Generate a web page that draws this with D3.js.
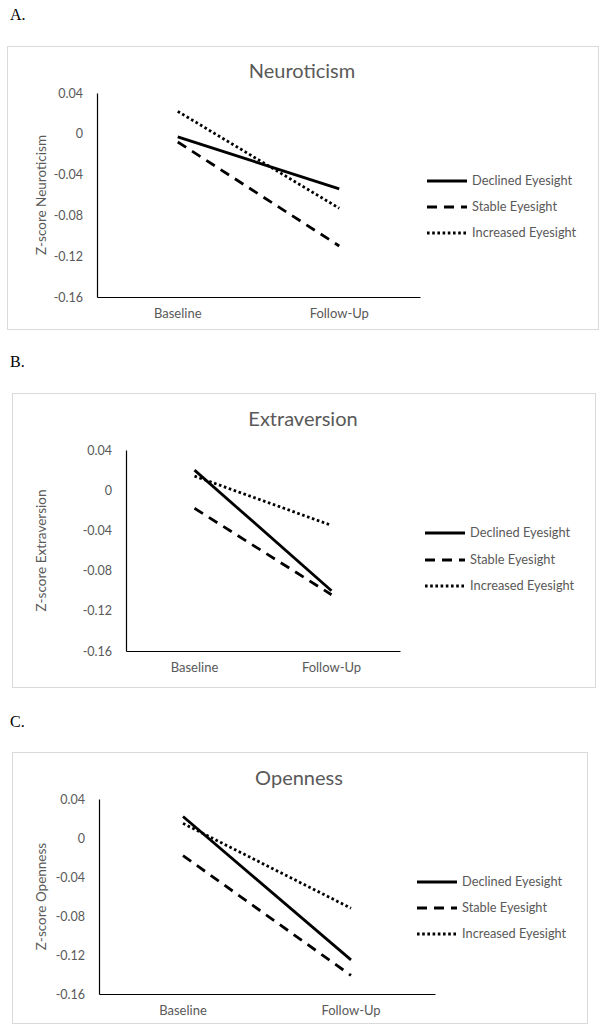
<!DOCTYPE html>
<html><head><meta charset="utf-8">
<script src="https://cdn.jsdelivr.net/npm/d3@7"></script>
<style>body{margin:0;background:#fff}svg{display:block}</style>
</head><body>
<svg id="c" width="602" height="1032"></svg>
<script>
const categories = ["Baseline", "Follow-Up"];
const seriesNames = ["Declined Eyesight", "Stable Eyesight", "Increased Eyesight"];
const yTicks = [0.04, 0, -0.04, -0.08, -0.12, -0.16];
const yTickLabels = ["0.04", "0", "-0.04", "-0.08", "-0.12", "-0.16"];
const panelLetters = ["A.", "B.", "C."];
const titles = ["Neuroticism", "Extraversion", "Openness"];
const yLabels = ["Z-score Neuroticism", "Z-score Extraversion", "Z-score Openness"];
const neuroDeclined = [-0.003, -0.054];
const neuroStable = [-0.008, -0.110];
const neuroIncreased = [0.022, -0.073];
const extraDeclined = [0.020, -0.100];
const extraStable = [-0.018, -0.104];
const extraIncreased = [0.014, -0.035];
const openDeclined = [0.022, -0.125];
const openStable = [-0.018, -0.141];
const openIncreased = [0.015, -0.072];

const panelData = [
  [neuroDeclined, neuroStable, neuroIncreased],
  [extraDeclined, extraStable, extraIncreased],
  [openDeclined, openStable, openIncreased]
];

// layout per panel
const layouts = [
  {letterY: 20, box: [7, 46, 591, 283], titleX: 302, titleY: 78, ax: [97, 420], ay: [93, 297], legX: 427, legY: [181, 207, 233]},
  {letterY: 367, box: [12, 393, 583, 294], titleX: 303, titleY: 426, ax: [126, 400], ay: [450, 651], legX: 425, legY: [533, 560, 586]},
  {letterY: 727, box: [12, 752, 575, 271], titleX: 299, titleY: 785, ax: [99, 435], ay: [799, 994], legX: 417, legY: [882, 908, 934]}
];

const styles = [
  {dash: null, cap: "butt"},
  {dash: "10,7", cap: "butt"},
  {dash: "2.6,2.6", cap: "butt"}
];

const svg = d3.select("#c");
const font = "Lato, 'Open Sans', sans-serif";
const gray = "#595959";

panelData.forEach((series, p) => {
  const L = layouts[p];
  svg.append("text").attr("x", 10).attr("y", L.letterY)
    .attr("font-family", "'Liberation Serif', serif").attr("font-size", 16).attr("fill", "#000")
    .text(panelLetters[p]);
  svg.append("rect").attr("x", L.box[0] + 0.5).attr("y", L.box[1] + 0.5)
    .attr("width", L.box[2]).attr("height", L.box[3])
    .attr("fill", "#fff").attr("stroke", "#d9d9d9").attr("stroke-width", 1);
  svg.append("text").attr("x", L.titleX).attr("y", L.titleY).attr("text-anchor", "middle")
    .attr("font-family", font).attr("font-size", 20).attr("fill", gray).text(titles[p]);

  const x = d3.scaleBand().domain(categories).range(L.ax).padding(0);
  const y = d3.scaleLinear().domain([-0.16, 0.04]).range([L.ay[1], L.ay[0]]);

  const g = svg.append("g");
  // y axis
  const ya = g.append("g").attr("transform", `translate(${L.ax[0]},0)`)
    .call(d3.axisLeft(y).tickValues(yTicks).tickSize(0).tickPadding(14)
      .tickFormat((d, i) => yTickLabels[i]));
  ya.select(".domain").attr("stroke", "#000").attr("stroke-width", 1.2);
  ya.selectAll("text").attr("font-family", font).attr("font-size", 12.5).attr("fill", gray);
  // x axis
  const xa = g.append("g").attr("transform", `translate(0,${L.ay[1]})`)
    .call(d3.axisBottom(x).tickSize(0).tickPadding(12));
  xa.select(".domain").attr("stroke", "#000").attr("stroke-width", 1.2);
  xa.selectAll("text").attr("font-family", font).attr("font-size", 13).attr("fill", gray);

  // y label
  const ymid = (L.ay[0] + L.ay[1]) / 2;
  svg.append("text").attr("transform", `translate(46,${ymid}) rotate(-90)`)
    .attr("text-anchor", "middle").attr("font-family", font).attr("font-size", 13.5).attr("fill", gray)
    .text(yLabels[p]);

  const line = d3.line().x((d, i) => x(categories[i]) + x.bandwidth() / 2).y(d => y(d));
  series.forEach((vals, s) => {
    const path = g.append("path").datum(vals).attr("d", line)
      .attr("fill", "none").attr("stroke", "#000").attr("stroke-width", 2.8)
      .attr("stroke-linecap", styles[s].cap);
    if (styles[s].dash) path.attr("stroke-dasharray", styles[s].dash);
  });

  // legend
  seriesNames.forEach((name, s) => {
    const ly = L.legY[s];
    const ln = svg.append("line").attr("x1", L.legX).attr("x2", L.legX + 40)
      .attr("y1", ly).attr("y2", ly).attr("stroke", "#000").attr("stroke-width", 2.8);
    if (styles[s].dash) ln.attr("stroke-dasharray", styles[s].dash);
    svg.append("text").attr("x", L.legX + 45).attr("y", ly).attr("dy", "0.35em")
      .attr("font-family", font).attr("font-size", 12.8).attr("fill", gray).text(name);
  });
});
</script>
</body></html>
